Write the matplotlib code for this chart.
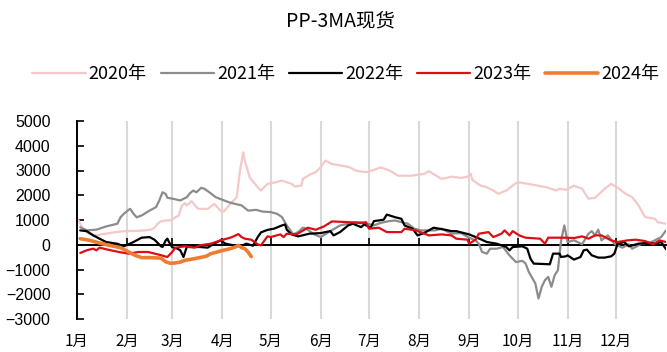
import numpy as np
import pandas as pd
import matplotlib
matplotlib.use("Agg")
import matplotlib.pyplot as plt

plt.rcParams["font.family"] = ["Noto Sans CJK SC", "DejaVu Sans"]
plt.rcParams["axes.unicode_minus"] = True

# PP-3MA spot spread, by day of year (0 = Jan 1)
d2020 = [0, 1, 3, 5, 7, 12, 17, 24, 30, 36, 42, 46, 48, 50, 52, 55, 58, 63, 65, 67, 68, 71, 75, 81,
         85, 89, 91, 95, 99, 100, 101, 103, 104, 107, 112, 114, 118, 123, 127, 133, 135, 139, 140,
         145, 148, 151, 154, 158, 164, 169, 173, 179, 184, 188, 194, 199, 207, 215, 218, 226, 232,
         238, 242, 244, 245, 250, 254, 258, 261, 266, 272, 274, 283, 291, 297, 299, 303, 308, 313,
         317, 321, 327, 331, 336, 340, 344, 348, 352, 358, 360, 365]
v2020 = [1090, 980, 710, 550, 450, 380, 440, 510, 550, 560, 580, 610, 690, 850, 950, 980, 990, 1180,
         1585, 1680, 1585, 1760, 1450, 1450, 1650, 1380, 1340, 1650, 1920, 2460, 2990, 3730, 3400,
         2720, 2320, 2190, 2460, 2520, 2590, 2460, 2350, 2390, 2660, 2860, 2930, 3130, 3400, 3260,
         3200, 3130, 2990, 2930, 3020, 3130, 2990, 2790, 2790, 2860, 2970, 2660, 2750, 2700, 2750,
         2860, 2620, 2390, 2320, 2190, 2060, 2190, 2490, 2520, 2420, 2320, 2190, 2260, 2220, 2390,
         2260, 1860, 1900, 2260, 2460, 2260, 2060, 1920, 1590, 1120, 1050, 910, 850]

d2021 = [2, 6, 12, 18, 22, 25, 27, 29, 32, 33, 35, 37, 40, 45, 49, 51, 53, 55, 56, 60, 64, 68, 70,
         72, 74, 77, 79, 82, 86, 90, 94, 98, 102, 106, 111, 115, 120, 124, 127, 130, 134, 137, 140,
         142, 147, 151, 156, 163, 172, 176, 180, 184, 188, 193, 197, 205, 209, 213, 217, 222, 226,
         232, 238, 243, 247, 249, 251, 254, 256, 260, 264, 268, 272, 276, 278, 280, 284, 286, 288,
         290, 292, 294, 296, 298, 300, 302, 304, 308, 313, 317, 319, 321, 323, 325, 329, 333, 338,
         342, 344, 350, 356, 362, 365]
v2021 = [710, 580, 610, 740, 800, 850, 1110, 1250, 1410, 1450, 1250, 1110, 1180, 1380, 1520, 1790,
         2120, 2050, 1900, 1850, 1790, 1920, 2080, 2190, 2120, 2300, 2260, 2120, 1920, 1820, 1720,
         1650, 1590, 1380, 1410, 1340, 1320, 1250, 1120, 780, 420, 510, 690, 650, 420, 310, 510, 780,
         910, 910, 850, 780, 880, 950, 980, 850, 650, 580, 580, 580, 650, 450, 470, 285, 180, 40,
         -290, -360, -160, -160, -90, -430, -700, -650, -760, -1100, -1560, -2170, -1700, -1430,
         -1300, -1700, -1230, -1030, 180, 780, 110, 180, 20, 450, 550, 380, 610, 180, 380, 40, -120,
         20, -160, 40, 110, 310, 580]

d2022 = [2, 6, 10, 14, 18, 25, 29, 32, 35, 40, 45, 48, 52, 53, 55, 56, 57, 59, 62, 64, 66, 68, 72,
         76, 81, 85, 89, 92, 97, 101, 105, 109, 112, 114, 118, 122, 127, 129, 130, 133, 137, 144,
         151, 157, 159, 163, 168, 171, 176, 178, 182, 184, 190, 192, 197, 201, 203, 208, 211, 215,
         221, 228, 232, 235, 243, 248, 254, 260, 266, 268, 270, 276, 279, 281, 283, 293, 295, 299,
         300, 303, 304, 308, 312, 314, 316, 319, 323, 327, 331, 333, 335, 339, 342, 348, 354, 359,
         362, 365]
v2022 = [580, 550, 380, 245, 110, 40, -60, 20, 110, 285, 310, 205, -60, -90, 177, 245, 110, -100,
         -150, -225, -495, -90, -90, -90, -117, 44, 177, 44, -24, -64, 44, -40, 310, 500, 600, 648,
         780, 820, 607, 418, 338, 446, 471, 551, 378, 511, 780, 849, 712, 821, 688, 955, 1010, 1220,
         1115, 1050, 780, 648, 378, 471, 688, 607, 551, 551, 418, 285, 110, 44, -92, -225, -92, -64,
         -157, -560, -761, -789, -360, -360, -495, -467, -427, -600, -495, -225, -197, -427, -520,
         -520, -467, -360, 44, 110, -64, 44, 70, 44, 110, -180]

d2023 = [2, 6, 10, 12, 14, 19, 26, 32, 38, 44, 50, 56, 59, 61, 67, 73, 76, 83, 89, 95, 97, 100, 102,
         104, 108, 112, 114, 118, 120, 126, 128, 130, 136, 143, 148, 153, 158, 168, 176, 179, 181,
         187, 192, 201, 203, 210, 218, 226, 232, 235, 242, 243, 247, 249, 255, 258, 263, 265, 268,
         270, 274, 278, 287, 290, 292, 298, 303, 308, 313, 317, 321, 325, 331, 335, 341, 346, 352,
         357, 361, 365]
v2023 = [-333, -225, -157, -225, -117, -197, -293, -360, -293, -293, -387, -495, -293, -117, -64,
         -117, -24, 44, 177, 285, 338, 430, 310, 245, 205, 16, -24, 338, 310, 418, 310, 446, 418, 688,
         607, 740, 942, 914, 875, 914, 648, 688, 511, 511, 648, 580, 378, 418, 378, 245, 205, 44,
         205, 446, 511, 310, 446, 580, 378, 551, 378, 285, 245, 44, 285, 285, 285, 270, 338, 245,
         378, 378, 177, 110, 177, 205, 150, 16, 177, 110]

d2024 = [2, 8, 14, 20, 27, 32, 36, 40, 46, 52, 55, 58, 61, 64, 67, 73, 80, 83, 89, 95, 98, 100, 102,
         104, 106, 108]
v2024 = [245, 177, 70, -24, -117, -293, -427, -520, -520, -540, -690, -750, -736, -700, -628, -560,
         -467, -360, -253, -157, -92, -24, -117, -157, -293, -480]

years = ["2020年", "2021年", "2022年", "2023年", "2024年"]
month_labels = [f"{m}月" for m in range(1, 13)]
month_pos = (pd.date_range("2023-01-01", periods=12, freq="MS").dayofyear - 1).to_numpy()

series = [(d2020, v2020), (d2021, v2021), (d2022, v2022), (d2023, v2023), (d2024, v2024)]
colors = ["#F4C8C8", "#8C8C8C", "#000000", "#DC0E16", "#ED7D31"]
widths = [1.6, 1.6, 1.6, 1.6, 2.6]

W, H = 667, 352
fig = plt.figure(figsize=(W / 100, H / 100), dpi=100)
ax = fig.add_axes([77 / W, 1 - 319 / H, 589 / W, 198 / H])

for x in month_pos[1:]:
    ax.axvline(x, color="#D9D9D9", lw=1.5, zorder=0)

handles = []
for (d, v), c, lw, name in zip(series, colors, widths, years):
    h, = ax.plot(d, v, color=c, lw=lw, label=name, solid_joinstyle="round",
                 solid_capstyle="round", zorder=2)
    handles.append(h)

ax.set_xlim(0, 365)
ax.set_ylim(-3000, 5000)

for s in ("top", "right"):
    ax.spines[s].set_visible(False)
ax.spines["bottom"].set_position(("data", 0))
ax.spines["bottom"].set_linewidth(1.4)
ax.spines["left"].set_linewidth(1.4)
ax.spines["bottom"].set_zorder(1.5)

ax.set_xticks(month_pos)
ax.tick_params(axis="x", direction="in", length=5, width=1.2, labelbottom=False)
ax.set_yticks(np.arange(-3000, 5001, 1000))
ax.tick_params(axis="y", direction="in", length=5, width=1.2, pad=19, labelsize=11.5)
for lab in ax.get_yticklabels():
    lab.set_fontfamily(["Liberation Sans", "DejaVu Sans"])

sec = ax.secondary_xaxis("bottom")
sec.set_xticks(month_pos, labels=month_labels)
sec.tick_params(length=0, pad=10, labelsize=11)
sec.spines["bottom"].set_visible(False)

fig.text(340.5 / W, 1 - 21 / H, "PP-3MA现货", ha="center", va="center", fontsize=14)
fig.legend(handles, years, loc="center", bbox_to_anchor=(346 / W, 1 - 74 / H), ncol=5,
           frameon=False, fontsize=13, handlelength=2.94, handletextpad=0.17,
           columnspacing=0.78)

fig.savefig("out.png", dpi=100)
